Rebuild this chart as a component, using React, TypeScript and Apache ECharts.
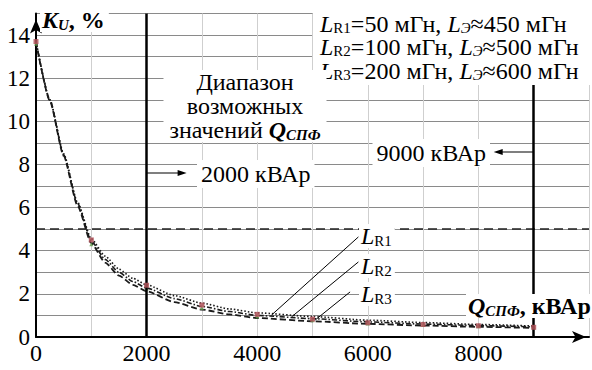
import React, { useEffect, useRef } from 'react';
import * as echarts from 'echarts';

// Reactive power Q_СПФ, kVAr
const Q = [0, 250, 500, 750, 1000, 1250, 1500, 1750, 2000, 2500, 3000, 3500, 4000, 5000, 6000, 7000, 8000, 9000];
// K_U, % for three reactor inductances
const LR1 = [13.7, 11.0, 8.5, 6.25, 4.55, 3.75, 3.15, 2.72, 2.42, 1.92, 1.57, 1.3, 1.12, 0.95, 0.78, 0.67, 0.58, 0.51];
const LR2 = [13.7, 11.0, 8.45, 6.2, 4.45, 3.6, 3.0, 2.57, 2.27, 1.78, 1.42, 1.18, 1.0, 0.85, 0.7, 0.6, 0.53, 0.47];
const LR3 = [13.7, 10.95, 8.4, 6.1, 4.35, 3.45, 2.85, 2.42, 2.12, 1.62, 1.27, 1.05, 0.88, 0.73, 0.61, 0.53, 0.47, 0.42];

// measured points
const markerQ = [0, 1000, 2000, 3000, 4000, 5000, 6000, 7000, 8000, 9000];
const markerRed = [13.7, 4.5, 2.4, 1.48, 1.05, 0.83, 0.66, 0.58, 0.52, 0.45];
const markerGreen = [13.6, 4.3, 2.25, 1.35, 0.95, 0.78, 0.63, 0.56, 0.5, 0.44];

const xTickLabels = [0, 2000, 4000, 6000, 8000];
const yTickLabels = [0, 2, 4, 6, 8, 10, 12, 14];
const limitLevel = 5;
const rangeBounds = [2000, 9000];

// legend lines: [reactor index, L_R, L_Э]
const legendRows = [
  ['R1', '50', '450'],
  ['R2', '100', '500'],
  ['R3', '200', '600'],
];

// leader lines from curve labels to curves: [labelQ, labelK, curveQ, curveK]
const leaderR1 = [5830, 4.64, 4260, 1.02];
const leaderR2 = [5830, 3.48, 4620, 0.93];
const leaderR3 = [5680, 2.09, 5050, 0.79];

const FONT = "'Times New Roman', 'Liberation Serif', 'DejaVu Serif', serif";

export default function App() {
  const ref = useRef<HTMLDivElement>(null);
  useEffect(() => {
    const chart = echarts.init(ref.current!, null, { renderer: 'svg' });
    const pair = (xs: number[], ys: number[]) => xs.map((x, i) => [x, ys[i]]);
    const lineColor = '#1a1a1a';

    const main = { fontFamily: FONT, fontSize: 24, fill: '#000', lineHeight: 24 };
    const ital = { ...main, fontStyle: 'italic' };
    const sub = { fontFamily: FONT, fontSize: 15, fill: '#000', lineHeight: 16, verticalAlign: 'bottom' };
    const subI = { ...sub, fontStyle: 'italic' };

    const leaderData = [leaderR1, leaderR2, leaderR3].map((l) => [
      { coord: [l[0], l[1]] },
      { coord: [l[2], l[3]] },
    ]);

    chart.setOption({
      animation: false,
      textStyle: { fontFamily: FONT },
      grid: { left: 36, right: 0, top: 13.5, bottom: 33 },
      xAxis: {
        type: 'value',
        min: 0,
        max: 10000,
        interval: 1000,
        axisLine: {
          show: true,
          lineStyle: { color: '#000', width: 2 },
          symbol: ['none', 'arrow'],
          symbolSize: [9, 14],
          symbolOffset: [0, -3],
        },
        axisTick: { show: false },
        axisLabel: {
          fontFamily: FONT,
          fontSize: 24,
          color: '#000',
          margin: 4,
          formatter: (v: number) => (xTickLabels.includes(v) ? String(v) : ''),
        },
        splitLine: { show: true, lineStyle: { color: '#cfcfcf', width: 1 } },
      },
      yAxis: {
        type: 'value',
        min: 0,
        max: 15,
        interval: 1,
        axisLine: {
          show: true,
          lineStyle: { color: '#000', width: 2 },
          symbol: ['none', 'arrow'],
          symbolSize: [9, 14],
          symbolOffset: [0, -6],
        },
        axisTick: { show: false },
        axisLabel: {
          fontFamily: FONT,
          fontSize: 23,
          color: '#000',
          margin: 6,
          formatter: (v: number) => (yTickLabels.includes(v) ? String(v) : ''),
        },
        splitLine: { show: true, lineStyle: { color: '#8a8a8a', width: 1 } },
      },
      series: [
        {
          type: 'line',
          name: 'LR1',
          data: pair(Q, LR1),
          smooth: 0.2,
          smoothMonotone: 'x',
          showSymbol: false,
          lineStyle: { color: lineColor, width: 1.6, type: [1.5, 2] },
          z: 3,
          markLine: {
            silent: true,
            symbol: 'none',
            label: { show: false },
            lineStyle: { color: '#000', width: 1, type: 'solid' },
            data: leaderData,
          },
        },
        {
          type: 'line',
          name: 'LR2',
          data: pair(Q, LR2),
          smooth: 0.2,
          smoothMonotone: 'x',
          showSymbol: false,
          lineStyle: { color: lineColor, width: 1.6, type: [5, 2, 1.5, 2] },
          z: 3,
          markLine: {
            silent: true,
            symbol: 'none',
            label: { show: false },
            data: [
              { yAxis: limitLevel, lineStyle: { color: '#222', width: 1.6, type: [9, 5] } },
              { xAxis: rangeBounds[0], lineStyle: { color: '#000', width: 2.5, type: 'solid' } },
              { xAxis: rangeBounds[1], lineStyle: { color: '#000', width: 2.5, type: 'solid' } },
            ],
          },
        },
        {
          type: 'line',
          name: 'LR3',
          data: pair(Q, LR3),
          smooth: 0.2,
          smoothMonotone: 'x',
          showSymbol: false,
          lineStyle: { color: lineColor, width: 1.8, type: [6, 3] },
          z: 3,
        },
        {
          type: 'scatter',
          data: pair(markerQ, markerGreen),
          symbol: 'triangle',
          symbolSize: 4,
          itemStyle: { color: '#5f9a4a' },
          z: 4,
        },
        {
          type: 'scatter',
          data: pair(markerQ, markerRed),
          symbol: 'rect',
          symbolSize: 5,
          itemStyle: { color: '#b0545a', opacity: 0.85 },
          z: 5,
        },
      ],
    });

    const p2000 = chart.convertToPixel({ gridIndex: 0 }, [rangeBounds[0], 0]) as number[];
    const p9000 = chart.convertToPixel({ gridIndex: 0 }, [rangeBounds[1], 0]) as number[];

    chart.setOption({
      graphic: [
        {
          type: 'rect',
          z: 99,
          shape: { x: 313, y: 9, width: 279, height: 76 },
          style: { fill: '#fff' },
        },
        ...legendRows.map(([r, lr, le], i) => ({
          type: 'text',
          z: 100,
          x: 320,
          y: 12 + i * 23.5,
          style: {
            text: `{l|L}{s|${r}}{n|=${lr} мГн, }{l|L}{si|Э}{n|≈${le} мГн}`,
            rich: {
              l: { ...ital, lineHeight: 23 },
              n: { ...main, lineHeight: 23 },
              s: { ...sub },
              si: { ...subI },
            },
          },
        })),
        {
          type: 'text',
          z: 100,
          x: 40,
          y: 8,
          style: {
            text: '{k|K}{u|U}{p|, %}',
            backgroundColor: '#fff',
            padding: [0, 4, 0, 2],
            rich: {
              k: { ...ital, fontWeight: 'bold' },
              u: { ...subI, fontWeight: 'bold' },
              p: { ...main, fontWeight: 'bold' },
            },
          },
        },
        {
          type: 'text',
          z: 100,
          x: 245,
          y: 70,
          style: {
            text: '{n|Диапазон}\n{n|возможных}\n{n|значений }{q|Q}{c|СПФ}',
            align: 'center',
            backgroundColor: '#fff',
            padding: [0, 6, 0, 6],
            rich: {
              n: { ...main },
              q: { ...ital, fontWeight: 'bold' },
              c: { ...subI, fontWeight: 'bold' },
            },
          },
        },
        {
          type: 'text',
          z: 100,
          x: 197,
          y: 160,
          style: {
            text: '{n|2000 кВАр}',
            backgroundColor: '#fff',
            padding: [2, 4, 2, 4],
            rich: { n: { ...main } },
          },
        },
        {
          type: 'text',
          z: 100,
          x: 490,
          y: 139,
          style: {
            text: '{n|9000 кВАр}',
            align: 'right',
            backgroundColor: '#fff',
            padding: [2, 4, 2, 4],
            rich: { n: { ...main } },
          },
        },
        {
          type: 'text',
          z: 100,
          x: 466,
          y: 294,
          style: {
            text: '{q|Q}{c|СПФ}{p|, кВАр}',
            backgroundColor: '#fff',
            padding: [0, 2, 0, 2],
            rich: {
              q: { ...ital, fontWeight: 'bold' },
              c: { ...subI, fontWeight: 'bold' },
              p: { ...main, fontWeight: 'bold' },
            },
          },
        },
        ...[
          ['R1', 224],
          ['R2', 254],
          ['R3', 282],
        ].map(([t, y]) => ({
          type: 'text',
          z: 100,
          x: 359,
          y: y as number,
          style: {
            text: `{l|L}{s|${t}}`,
            backgroundColor: '#fff',
            padding: [0, 3, 0, 2],
            rich: { l: { ...ital }, s: { ...sub } },
          },
        })),
        {
          type: 'line',
          z: 101,
          shape: { x1: p2000[0], y1: 173, x2: p2000[0] + 34, y2: 173 },
          style: { stroke: '#000', lineWidth: 1.2 },
        },
        {
          type: 'polygon',
          z: 101,
          shape: { points: [[p2000[0] + 40, 173], [p2000[0] + 31, 170], [p2000[0] + 31, 176]] },
          style: { fill: '#000' },
        },
        {
          type: 'line',
          z: 101,
          shape: { x1: p9000[0], y1: 152, x2: p9000[0] - 34, y2: 152 },
          style: { stroke: '#000', lineWidth: 1.2 },
        },
        {
          type: 'polygon',
          z: 101,
          shape: { points: [[p9000[0] - 40, 152], [p9000[0] - 31, 149], [p9000[0] - 31, 155]] },
          style: { fill: '#000' },
        },
      ],
    });

    return () => chart.dispose();
  }, []);
  return <div ref={ref} style={{ position: 'fixed', left: 0, top: 0, width: 592, height: 370, background: '#fff' }} />;
}
